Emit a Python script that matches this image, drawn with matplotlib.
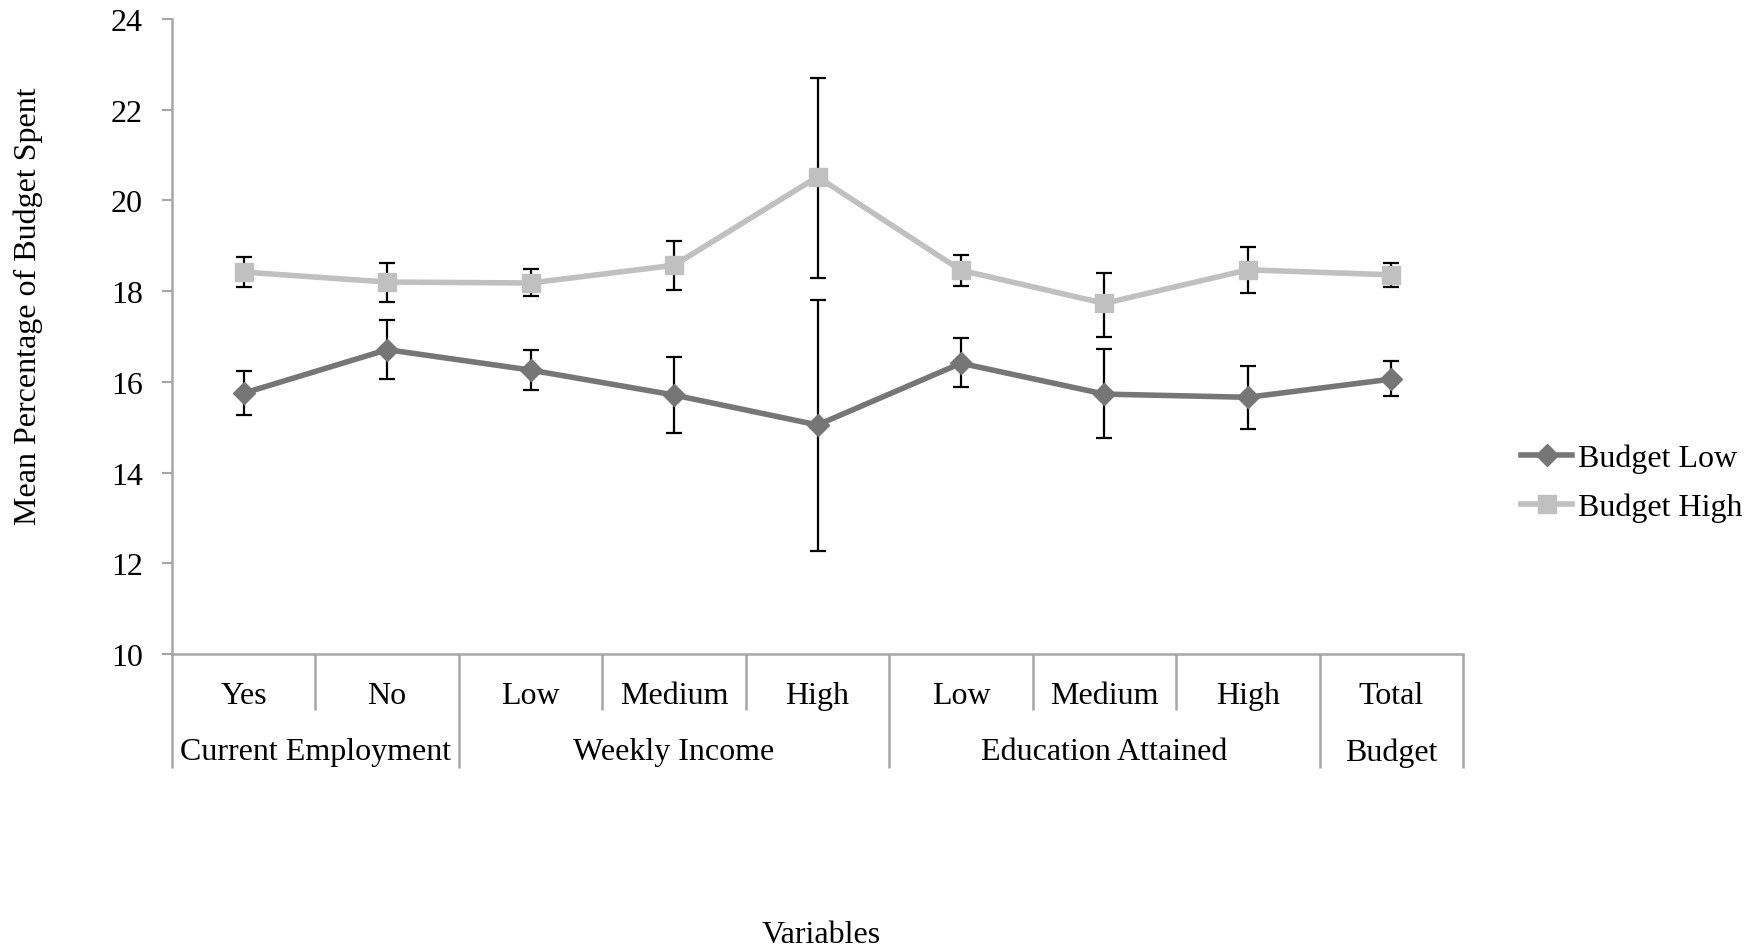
import matplotlib
matplotlib.use("Agg")
import matplotlib.pyplot as plt
import numpy as np

plt.rcParams['font.family'] = ['Liberation Serif', 'DejaVu Serif']

categories = ["Yes", "No", "Low", "Medium", "High", "Low", "Medium", "High", "Total"]
groups = ["Current Employment", "Weekly Income", "Education Attained", "Budget"]
group_sizes = [2, 3, 3, 1]

low_mean = [15.75, 16.71, 16.26, 15.71, 15.05, 16.41, 15.73, 15.66, 16.06]
low_upper = [16.25, 17.37, 16.70, 16.54, 17.81, 16.96, 16.73, 16.35, 16.47]
low_lower = [15.28, 16.06, 15.82, 14.87, 12.26, 15.88, 14.76, 14.95, 15.69]

high_mean = [18.42, 18.20, 18.18, 18.57, 20.52, 18.46, 17.73, 18.47, 18.36]
high_upper = [18.75, 18.63, 18.48, 19.11, 22.71, 18.79, 18.41, 18.97, 18.61]
high_lower = [18.09, 17.77, 17.89, 18.02, 18.29, 18.11, 16.98, 17.97, 18.09]

yticks = [10, 12, 14, 16, 18, 20, 22, 24]

W, H = 1762, 953
fig = plt.figure(figsize=(W / 100, H / 100), dpi=100)
ax = fig.add_axes([172 / W, 1 - 655 / H, (1463 - 172) / W, (655 - 20) / H])

x = np.arange(len(categories)) + 0.5
FS = 23
grey_axis = "#A6A6A6"
c_low = "#767676"
c_high = "#C0C0C0"

def errs(m, lo, hi):
    m = np.array(m); lo = np.array(lo); hi = np.array(hi)
    return [m - lo, hi - m]

for mean, lo, hi, col, mk, ms, lab in [
    (high_mean, high_lower, high_upper, c_high, "s", 13, "Budget High"),
    (low_mean, low_lower, low_upper, c_low, "D", 11, "Budget Low"),
]:
    ax.errorbar(x, mean, yerr=errs(mean, lo, hi), fmt="none", ecolor="black",
                elinewidth=1.6, capsize=6, capthick=1.6, zorder=2)
    ax.plot(x, mean, color=col, lw=4.0, marker=mk, ms=ms, mfc=col, mec=col,
            zorder=3, label=lab)

ax.set_xlim(0, len(categories))
ax.set_ylim(10, 24)
ax.set_yticks(yticks)
ax.set_yticklabels([str(t) for t in yticks], fontsize=FS)
ax.set_xticks([])
for s in ["top", "right"]:
    ax.spines[s].set_visible(False)
for s in ["left", "bottom"]:
    ax.spines[s].set_color(grey_axis)
    ax.spines[s].set_linewidth(1.8)
ax.tick_params(axis="y", direction="out", length=7, width=1.5, color=grey_axis, pad=14)

trans = ax.get_xaxis_transform()
for xi, c in zip(x, categories):
    ax.text(xi, -0.066, c, transform=trans, ha="center", va="center", fontsize=FS)
group_bounds = np.concatenate([[0], np.cumsum(group_sizes)])
for b in range(len(categories) + 1):
    bottom = -0.18 if b in group_bounds else -0.088
    ax.plot([b, b], [0, bottom], transform=trans, color=grey_axis, lw=1.8,
            clip_on=False, solid_capstyle="butt")
for g, a, bnd in zip(groups, group_bounds[:-1], group_bounds[1:]):
    ax.text((a + bnd) / 2, -0.154, g, transform=trans, ha="center", va="center", fontsize=FS)

fig.text(28 / W, 1 - 306 / H, "Mean Percentage of Budget Spent", rotation=90,
         ha="center", va="center", fontsize=FS)
fig.text(821 / W, 1 - 936 / H, "Variables", ha="center", va="center", fontsize=FS)

handles, labels = ax.get_legend_handles_labels()
fig.legend(handles[::-1], labels[::-1], loc="center left",
           bbox_to_anchor=(1505 / W, 1 - 484 / H), frameon=False, fontsize=FS,
           handlelength=1.6, handletextpad=0.2, labelspacing=0.6, borderpad=0)

fig.savefig("out.png", dpi=100)
